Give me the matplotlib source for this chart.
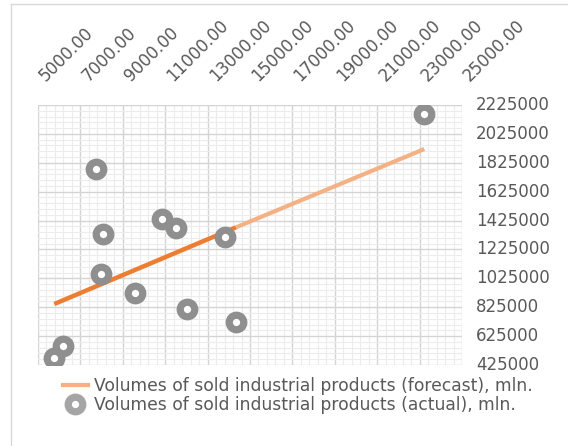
import matplotlib
matplotlib.use("Agg")
import matplotlib.pyplot as plt
from matplotlib.lines import Line2D
from matplotlib.ticker import AutoMinorLocator
from matplotlib.transforms import blended_transform_factory, offset_copy

# Observed values (x: horizontal factor, y: sold industrial products, mln.)
actual_x = [7722, 8080, 7972, 10835, 11495, 9575, 12014, 13821, 14340, 6193, 5769, 23222]
actual_y = [1782000, 1330000, 1053000, 1438000, 1376000, 925500, 812700, 1313000,
            722700, 558600, 475500, 2163000]

# Linear forecast: fitted part and extension
forecast_fit_x = [5769, 14340]
forecast_fit_y = [847300, 1378000]
forecast_ext_x = [14340, 23222]
forecast_ext_y = [1378000, 1920000]

x_ticks = [5000, 7000, 9000, 11000, 13000, 15000, 17000, 19000, 21000, 23000, 25000]
x_tick_labels = ["5000.00", "7000.00", "9000.00", "11000.00", "13000.00", "15000.00",
                 "17000.00", "19000.00", "21000.00", "23000.00", "25000.00"]
y_ticks = [425000, 625000, 825000, 1025000, 1225000, 1425000, 1625000, 1825000,
           2025000, 2225000]
y_tick_labels = [str(v) for v in y_ticks]

label_forecast = "Volumes of sold industrial products (forecast), mln."
label_actual = "Volumes of sold industrial products (actual), mln."

W, H = 568, 446
fig = plt.figure(figsize=(W / 100, H / 100), dpi=100)
fig.patch.set_facecolor("white")

left, right, top, bottom = 38, 462, 105, 365
ax = fig.add_axes([left / W, 1 - bottom / H, (right - left) / W, (bottom - top) / H])

ax.set_xlim(5000, 25000)
ax.set_ylim(425000, 2225000)

ax.set_xticks(x_ticks)
ax.set_yticks(y_ticks)
ax.xaxis.set_minor_locator(AutoMinorLocator(5))
ax.yaxis.set_minor_locator(AutoMinorLocator(5))
ax.tick_params(which="both", length=0, labelbottom=False, labelleft=False,
               labeltop=False, labelright=False)

text_color = "#595959"
tick_font = "DejaVu Sans"

# Top axis labels, rotated, each starting near its grid line
top_trans = offset_copy(blended_transform_factory(ax.transData, ax.transAxes),
                        fig=fig, x=5.8, y=16.5, units="points")
for xv, lab in zip(x_ticks, x_tick_labels):
    ax.text(xv, 1.0, lab, transform=top_trans, rotation=45, rotation_mode="anchor",
            ha="left", va="baseline", fontsize=12.0, color=text_color,
            family=tick_font, clip_on=False)

# Right axis labels
right_trans = offset_copy(blended_transform_factory(ax.transAxes, ax.transData),
                          fig=fig, x=10.0, y=0, units="points")
for yv, lab in zip(y_ticks, y_tick_labels):
    ax.text(1.0, yv, lab, transform=right_trans, ha="left", va="center",
            fontsize=12.0, color=text_color, family=tick_font, clip_on=False)

ax.grid(True, which="major", color="#d4d4d4", linewidth=1.0)
ax.grid(True, which="minor", color="#ececec", linewidth=0.8)
ax.set_axisbelow(True)
for s in ax.spines.values():
    s.set_visible(False)

# Forecast line
ax.plot(forecast_fit_x, forecast_fit_y, color="#ED7D31", linewidth=3.2,
        solid_capstyle="butt", zorder=3)
ax.plot(forecast_ext_x, forecast_ext_y, color="#F4B183", linewidth=3.0,
        solid_capstyle="butt", zorder=3)

# Actual values as ring markers
ax.plot(actual_x, actual_y, linestyle="none", marker="o", markersize=10.5,
        markerfacecolor="white", markeredgecolor="#8f8f8f", markeredgewidth=5.2,
        zorder=4)

handles = [
    Line2D([], [], color="#F4B183", linewidth=3.0),
    Line2D([], [], linestyle="none", marker="o", markersize=10.5,
           markerfacecolor="white", markeredgecolor="#a5a5a5", markeredgewidth=5.2),
]
fig.legend(handles, [label_forecast, label_actual], loc="upper left",
           bbox_to_anchor=(63 / W, 1 - 377 / H), frameon=False,
           prop={"family": "DejaVu Sans", "size": 12.3},
           labelcolor=text_color, handlelength=1.45, handletextpad=0.36,
           labelspacing=0.08, borderpad=0, borderaxespad=0)

# Chart-area frame edges
frame_color = "#d9d9d9"
fig.add_artist(Line2D([11 / W, 11 / W], [0, 1 - 4 / H], color=frame_color,
                      linewidth=1.0, transform=fig.transFigure))
fig.add_artist(Line2D([11 / W, 1], [1 - 4 / H, 1 - 4 / H], color=frame_color,
                      linewidth=1.0, transform=fig.transFigure))

fig.savefig("out.png", dpi=100)
